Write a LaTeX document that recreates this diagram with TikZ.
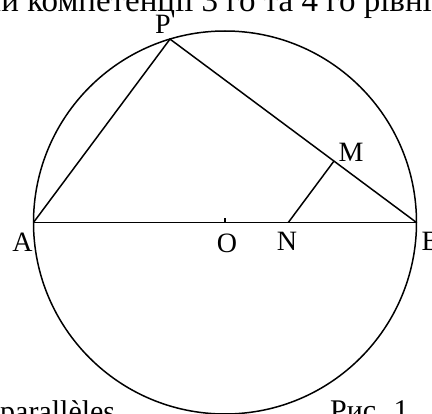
\documentclass[tikz,border=0pt]{standalone}
\usepackage{fontspec}
\setmainfont{Liberation Serif}
\usetikzlibrary{calc}
\begin{document}
\begin{tikzpicture}[x=1pt,y=-1pt,
  geo/.style={line width=1.5pt},
  thin geo/.style={line width=1.3pt},
  lbl/.style={font=\fontsize{28}{32}\selectfont, inner sep=0pt},
  toptext/.style={font=\fontsize{33}{38}\selectfont, inner sep=0pt, anchor=base west},
  bottext/.style={font=\fontsize{30}{36}\selectfont, inner sep=0pt, anchor=base west}]
\useasboundingbox (0,0) rectangle (432,414);
\clip (0,0) rectangle (432,414);
\coordinate (O) at (225,222.5);
\coordinate (A) at (33.5,222.5);
\coordinate (B) at (416.5,222.5);
\coordinate (P) at (170,39.1);
\coordinate (N) at (288.3,222.5);
\coordinate (M) at ($(P)!(N)!(B)$);
\coordinate (M1) at ($(M)!13!(N)$);
\coordinate (M2) at ($(M)!13!(B)$);
\coordinate (T) at ($(O)+(0,-4)$);
\draw[geo] (O) circle (191.5);
\draw[geo] (A) -- (B);
\draw[geo] (A) -- (P) -- (B);
\draw[geo] (N) -- (M);
\draw[thin geo] (M1) -- ($(M1)+(M2)-(M)$) -- (M2);
\draw[thin geo] (O) -- (T);
\node[lbl] (lP) at (163,24) {P};
\node[lbl] (lA) at (22.5,242) {A};
\node[lbl] (lO) at (227,243) {O};
\node[lbl] (lN) at (287,241) {N};
\node[lbl] (lM) at (351,152.5) {M};
\node[lbl] (lB) at (431,241) {B};
\node[toptext] (top) at (-16.5,11.5) {ни компетенції 3 го та 4 го рівнів};
\node[bottext] (par) at (0,422) {parallèles};
\node[bottext] (ris) at (330,421) {Рис. 1};
\end{tikzpicture}
\end{document}
